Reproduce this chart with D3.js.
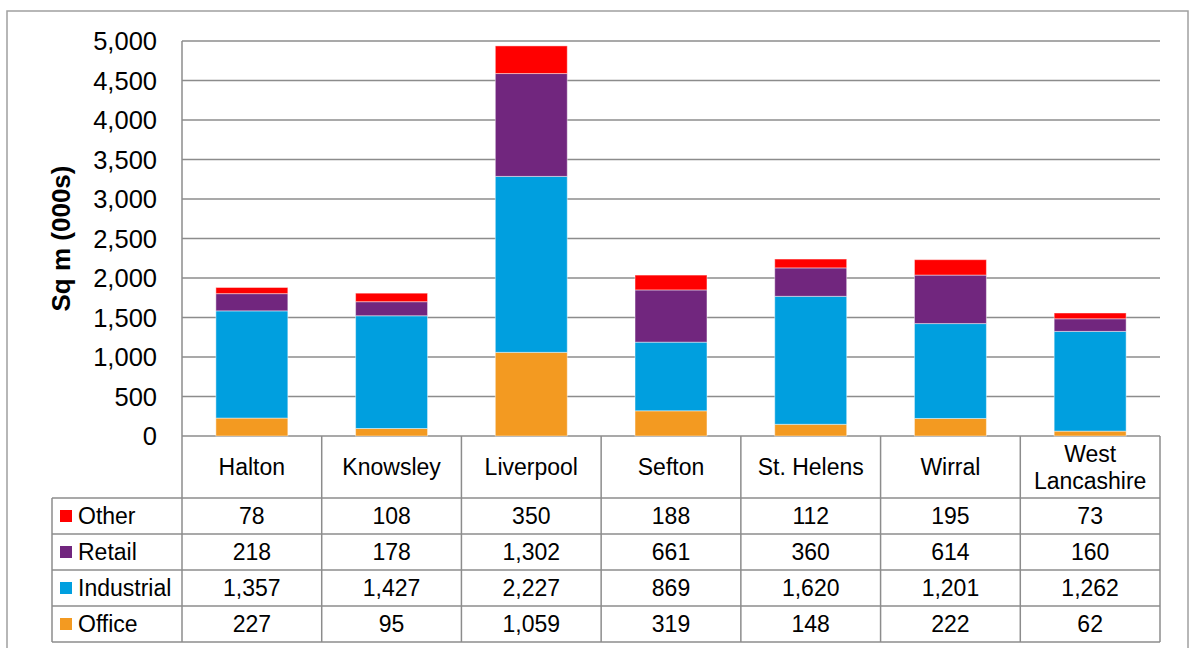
<!DOCTYPE html>
<html><head><meta charset="utf-8">
<script src="https://cdn.jsdelivr.net/npm/d3@7"></script>
<style>body{margin:0;background:#fff}svg{display:block}text{font-family:Arial,"Liberation Sans",sans-serif;fill:#000}</style>
</head><body><svg id="c" width="1191" height="648"></svg>
<script>
const categories = ["Halton","Knowsley","Liverpool","Sefton","St. Helens","Wirral","West Lancashire"];
const office = [227,95,1059,319,148,222,62];
const industrial = [1357,1427,2227,869,1620,1201,1262];
const retail = [218,178,1302,661,360,614,160];
const other = [78,108,350,188,112,195,73];
const yTicks = [0,500,1000,1500,2000,2500,3000,3500,4000,4500,5000];
const seriesNames = ["Office","Industrial","Retail","Other"];
const seriesColors = ["#F39A21","#009FDF","#71267E","#FF0000"];

const svg = d3.select("#c");
const L = 182, R = 1160, T = 41, B = 436;
const x = d3.scaleBand().domain(categories).range([L,R]).paddingInner(0.485).paddingOuter(0.2425);
const y = d3.scaleLinear().domain([0,5000]).range([B,T]);
const fmt = d3.format(",");
const grid = "#8c8c8c";

// outer border
svg.append("rect").attr("x",7).attr("y",11).attr("width",1181).attr("height",660)
  .attr("fill","none").attr("stroke","#a0a0a0").attr("stroke-width",1.5);

// gridlines
svg.append("g").selectAll("line").data(yTicks).join("line")
  .attr("x1",L).attr("x2",R).attr("y1",d=>y(d)).attr("y2",d=>y(d))
  .attr("stroke",grid).attr("stroke-width",1.5);
svg.append("line").attr("x1",L).attr("x2",L).attr("y1",T).attr("y2",B).attr("stroke",grid).attr("stroke-width",1.5);

// y axis labels
svg.append("g").selectAll("text").data(yTicks).join("text")
  .attr("x",157).attr("y",d=>y(d)).attr("dy","0.36em").attr("text-anchor","end")
  .attr("font-size",25.5).text(d=>fmt(d));
svg.append("text").attr("transform",`translate(70,${(T+B)/2}) rotate(-90)`)
  .attr("text-anchor","middle").attr("font-size",26).attr("font-weight","bold").text("Sq m (000s)");

// stacked bars
const rows = categories.map((c,i)=>({cat:c,Office:office[i],Industrial:industrial[i],Retail:retail[i],Other:other[i]}));
const stack = d3.stack().keys(seriesNames)(rows);
svg.append("g").selectAll("g").data(stack).join("g")
  .attr("fill",(d,i)=>seriesColors[i])
  .selectAll("rect").data(d=>d).join("rect")
  .attr("x",d=>x(d.data.cat)).attr("width",x.bandwidth())
  .attr("y",d=>y(d[1])).attr("height",d=>y(d[0])-y(d[1]))
  .attr("stroke","rgba(255,255,255,0.45)").attr("stroke-width",1);

// data table
const colW = (R-L)/categories.length;
const headB = 498, rowH = 36;
const tableRows = [["Other",other,"#FF0000"],["Retail",retail,"#71267E"],["Industrial",industrial,"#009FDF"],["Office",office,"#F39A21"]];
const tb = svg.append("g");
const bottom = headB + rowH*tableRows.length;
d3.range(categories.length+1).forEach(i=>{
  tb.append("line").attr("x1",L+i*colW).attr("x2",L+i*colW).attr("y1",B).attr("y2",bottom).attr("stroke",grid).attr("stroke-width",1.5);
});
tb.append("line").attr("x1",52).attr("x2",52).attr("y1",headB).attr("y2",bottom).attr("stroke",grid).attr("stroke-width",1.5);
d3.range(tableRows.length+1).forEach(j=>{
  tb.append("line").attr("x1",52).attr("x2",R).attr("y1",headB+j*rowH).attr("y2",headB+j*rowH).attr("stroke",grid).attr("stroke-width",1.5);
});
categories.forEach((c,i)=>{
  const cx = L+i*colW+colW/2;
  const parts = c==="West Lancashire" ? ["West","Lancashire"] : [c];
  parts.forEach((p,k)=>{
    tb.append("text").attr("x",cx).attr("y",(B+headB)/2 + (k-(parts.length-1)/2)*27).attr("dy","0.36em")
      .attr("text-anchor","middle").attr("font-size",23).text(p);
  });
});
tableRows.forEach((r,j)=>{
  const cy = headB + j*rowH + rowH/2;
  tb.append("rect").attr("x",60).attr("y",cy-6).attr("width",12).attr("height",12).attr("fill",r[2]);
  tb.append("text").attr("x",78).attr("y",cy).attr("dy","0.36em").attr("font-size",23).text(r[0]);
  r[1].forEach((v,i)=>{
    tb.append("text").attr("x",L+i*colW+colW/2).attr("y",cy).attr("dy","0.36em")
      .attr("text-anchor","middle").attr("font-size",23).text(fmt(v));
  });
});
</script></body></html>
